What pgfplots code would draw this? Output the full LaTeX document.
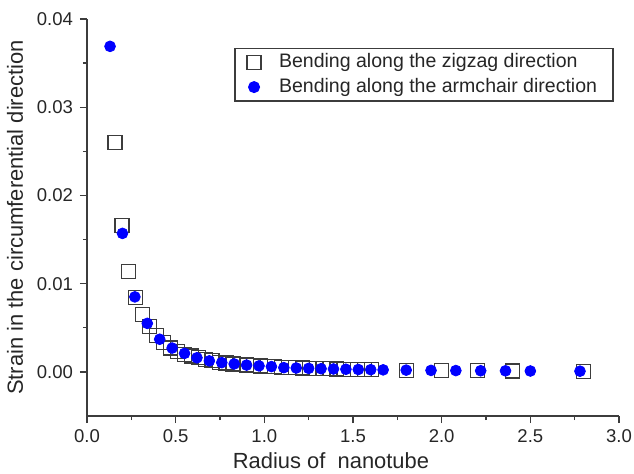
\documentclass[border=0pt]{standalone}
\usepackage{fontspec}
\setmainfont{Liberation Sans}
\usepackage{pgfplots}
\pgfplotsset{compat=1.18}
\definecolor{axgray}{RGB}{60,60,60}
\begin{document}
\begin{tikzpicture}
\begin{axis}[
 at={(0,0)}, anchor=south west,
 width=266bp, height=198.5bp, scale only axis,
 xmin=0, xmax=3, ymin=-0.005, ymax=0.04,
 axis x line*=bottom, axis y line*=left,
 axis line style={axgray, line width=0.8bp, -},
 tick align=outside, tick style={axgray, line width=0.7bp},
 major tick length=3.5bp, minor tick length=2bp,
 xtick={0,0.5,1,1.5,2,2.5,3}, ytick={0,0.01,0.02,0.03,0.04},
 minor x tick num=1, minor y tick num=1,
 scaled y ticks=false,
 xticklabel style={/pgf/number format/.cd, fixed, fixed zerofill, precision=1},
 yticklabel style={/pgf/number format/.cd, fixed, fixed zerofill, precision=2},
 /pgf/number format/assume math mode=true,
 tick label style={font=\fontsize{9.3}{11}\selectfont, text=black!85},
 xlabel={Radius of\ \ nanotube}, ylabel={Strain in the circumferential direction},
 label style={font=\fontsize{11}{13}\selectfont, text=black!85},
 xlabel style={xshift=-11bp, yshift=2bp},
 legend style={at={(0.99,0.928)}, anchor=north east, draw=axgray, line width=0.6bp,
   font=\fontsize{9.8}{11.5}\selectfont, row sep=1.5bp, column sep=7bp, text=black!85,
   inner xsep=6bp, inner ysep=1.5bp, nodes={inner ysep=1.2bp}},
 legend cell align=left,
 clip=false,
]
\addplot[only marks, mark=square, mark size=3.5bp, mark options={draw=axgray, line width=0.6bp, fill=none}] coordinates {
(0.158,0.0260) (0.197,0.0166) (0.236,0.0114) (0.275,0.0084) (0.314,0.0065)
(0.354,0.0051) (0.393,0.0041) (0.432,0.0033) (0.471,0.0027) (0.510,0.0023)
(0.549,0.0020) (0.588,0.0018) (0.627,0.0016) (0.666,0.0014) (0.705,0.0013)
(0.745,0.0011) (0.784,0.0010) (0.823,0.0009) (0.862,0.00086) (0.901,0.00079)
(0.940,0.00072) (0.979,0.00067) (1.018,0.00062) (1.057,0.00057) (1.096,0.00053)
(1.135,0.00050) (1.175,0.00046) (1.214,0.00043) (1.253,0.00041) (1.292,0.00038)
(1.331,0.00036) (1.370,0.00034) (1.409,0.00032) (1.448,0.00031) (1.487,0.00029)
(1.526,0.00027) (1.566,0.00026) (1.605,0.00025)
(1.80,0.00020) (2.00,0.00016) (2.20,0.00013) (2.40,0.00011) (2.80,0.00008)
};
\addlegendentry{Bending along the zigzag direction}
\addplot[only marks, mark=*, mark size=2.7bp, color=blue] coordinates {
(0.13,0.0369) (0.20,0.0157) (0.27,0.0085) (0.34,0.0055) (0.41,0.0037)
(0.48,0.0027) (0.55,0.0021) (0.62,0.0016) (0.69,0.00125) (0.76,0.00105)
(0.83,0.0009) (0.90,0.00077) (0.97,0.00068) (1.04,0.0006) (1.11,0.00048)
(1.18,0.00044) (1.25,0.0004) (1.32,0.00036) (1.39,0.00033) (1.46,0.0003)
(1.53,0.00027) (1.60,0.00025) (1.67,0.00023)
(1.80,0.00020) (1.94,0.00017) (2.08,0.00015) (2.22,0.00013) (2.36,0.00012)
(2.50,0.00010) (2.78,0.00008)
};
\addlegendentry{Bending along the armchair direction}
\end{axis}
\pgfresetboundingbox
\path[use as bounding box] (-43.5bp,-29bp) rectangle (273.5bp,208bp);
\end{tikzpicture}
\end{document}
